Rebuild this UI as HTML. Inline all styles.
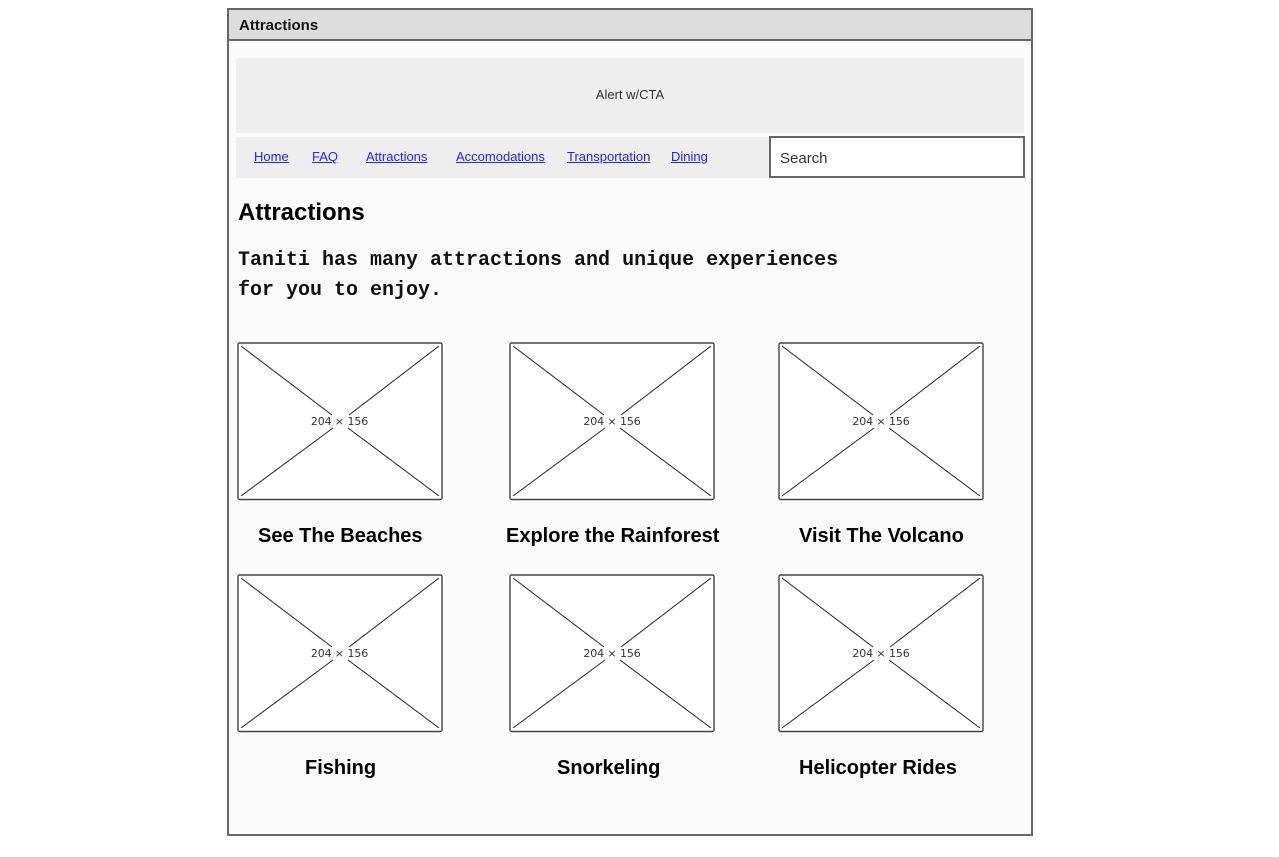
<!DOCTYPE html>
<html lang="en">
<head>
<meta charset="utf-8">
<title>Attractions</title>
<style>
html,body{margin:0;padding:0;width:1279px;height:857px;background:#fff;overflow:hidden}
body{font-family:"Liberation Sans",sans-serif;position:relative}
.abs{position:absolute;white-space:nowrap}
.frame{left:227px;top:8px;width:802px;height:824px;border:2px solid #666;background:#fafafa}
.titlebar{left:229px;top:10px;width:802px;height:29px;background:#ddd;border-bottom:2px solid #666}
.titletext{left:239px;top:17px;font-size:15px;line-height:18px;font-weight:bold;color:#111}
.alert{left:236px;top:58px;width:788px;height:75px;background:#eee}
.alerttext{left:236px;width:788px;top:87px;text-align:center;font-size:13px;line-height:15px;color:#333}
.nav{left:236px;top:137px;width:534px;height:41px;background:#eee}
.nav-link{top:149px;font-size:13px;line-height:15px;color:#2222ff;text-decoration:underline}
.search{left:769px;top:136px;width:252px;height:38px;border:2px solid #666;background:#fff}
.searchtext{left:780px;top:150px;font-size:15px;line-height:17px;color:#333}
h1{margin:0;left:238px;top:199px;font-size:24px;line-height:28px;font-weight:bold;color:#000}
.intro{left:238px;top:246px;font-family:"Liberation Mono",monospace;font-weight:bold;font-size:20px;line-height:30px;color:#111}
.ph{width:205px;height:158px;display:block;overflow:visible}
.ph text{font-family:"DejaVu Sans",sans-serif;font-size:11px;letter-spacing:-.1px;fill:#333}
.cap{font-size:20px;line-height:24px;font-weight:bold;color:#000}
</style>
</head>
<body>
<div class="abs frame"></div>
<div class="abs titlebar"></div>
<div class="abs titletext">Attractions</div>

<div class="abs alert"></div>
<div class="abs alerttext">Alert w/CTA</div>

<div class="abs nav"></div>
<a class="abs nav-link" style="left:254px">Home</a>
<a class="abs nav-link" style="left:312px">FAQ</a>
<a class="abs nav-link" style="left:366px">Attractions</a>
<a class="abs nav-link" style="left:456px">Accomodations</a>
<a class="abs nav-link" style="left:567px">Transportation</a>
<a class="abs nav-link" style="left:671px">Dining</a>

<div class="abs search"></div>
<div class="abs searchtext">Search</div>

<h1 class="abs">Attractions</h1>
<div class="abs intro">Taniti has many attractions and unique experiences<br>for you to enjoy.</div>

<svg class="abs ph" style="left:237px;top:342px" viewBox="0 0 205 158">
<rect x="1" y="1" width="204" height="156.500" rx="1.500" fill="#fff" stroke="#444" stroke-width="1.400"/>
<path d="M4 4L95 73M202 4L112 73M4 154L96 86M202 154L111 86" stroke="#222" stroke-width="1" fill="none"/>
<text x="102.500" y="83" text-anchor="middle">204 × 156</text>
</svg>
<svg class="abs ph" style="left:509px;top:342px" viewBox="0 0 205 158">
<rect x="1" y="1" width="204" height="156.500" rx="1.500" fill="#fff" stroke="#444" stroke-width="1.400"/>
<path d="M4 4L95 73M202 4L112 73M4 154L96 86M202 154L111 86" stroke="#222" stroke-width="1" fill="none"/>
<text x="103" y="83" text-anchor="middle">204 × 156</text>
</svg>
<svg class="abs ph" style="left:778px;top:342px" viewBox="0 0 205 158">
<rect x="1" y="1" width="204" height="156.500" rx="1.500" fill="#fff" stroke="#444" stroke-width="1.400"/>
<path d="M4 4L95 73M202 4L112 73M4 154L96 86M202 154L111 86" stroke="#222" stroke-width="1" fill="none"/>
<text x="103" y="83" text-anchor="middle">204 × 156</text>
</svg>
<svg class="abs ph" style="left:237px;top:574px" viewBox="0 0 205 158">
<rect x="1" y="1" width="204" height="156.500" rx="1.500" fill="#fff" stroke="#444" stroke-width="1.400"/>
<path d="M4 4L95 73M202 4L112 73M4 154L96 86M202 154L111 86" stroke="#222" stroke-width="1" fill="none"/>
<text x="102.500" y="83" text-anchor="middle">204 × 156</text>
</svg>
<svg class="abs ph" style="left:509px;top:574px" viewBox="0 0 205 158">
<rect x="1" y="1" width="204" height="156.500" rx="1.500" fill="#fff" stroke="#444" stroke-width="1.400"/>
<path d="M4 4L95 73M202 4L112 73M4 154L96 86M202 154L111 86" stroke="#222" stroke-width="1" fill="none"/>
<text x="103" y="83" text-anchor="middle">204 × 156</text>
</svg>
<svg class="abs ph" style="left:778px;top:574px" viewBox="0 0 205 158">
<rect x="1" y="1" width="204" height="156.500" rx="1.500" fill="#fff" stroke="#444" stroke-width="1.400"/>
<path d="M4 4L95 73M202 4L112 73M4 154L96 86M202 154L111 86" stroke="#222" stroke-width="1" fill="none"/>
<text x="103" y="83" text-anchor="middle">204 × 156</text>
</svg>

<div class="abs cap" style="left:258px;top:524px">See The Beaches</div>
<div class="abs cap" style="left:506px;top:524px">Explore the Rainforest</div>
<div class="abs cap" style="left:799px;top:524px">Visit The Volcano</div>
<div class="abs cap" style="left:305px;top:756px">Fishing</div>
<div class="abs cap" style="left:557px;top:756px">Snorkeling</div>
<div class="abs cap" style="left:799px;top:756px">Helicopter Rides</div>
</body>
</html>
